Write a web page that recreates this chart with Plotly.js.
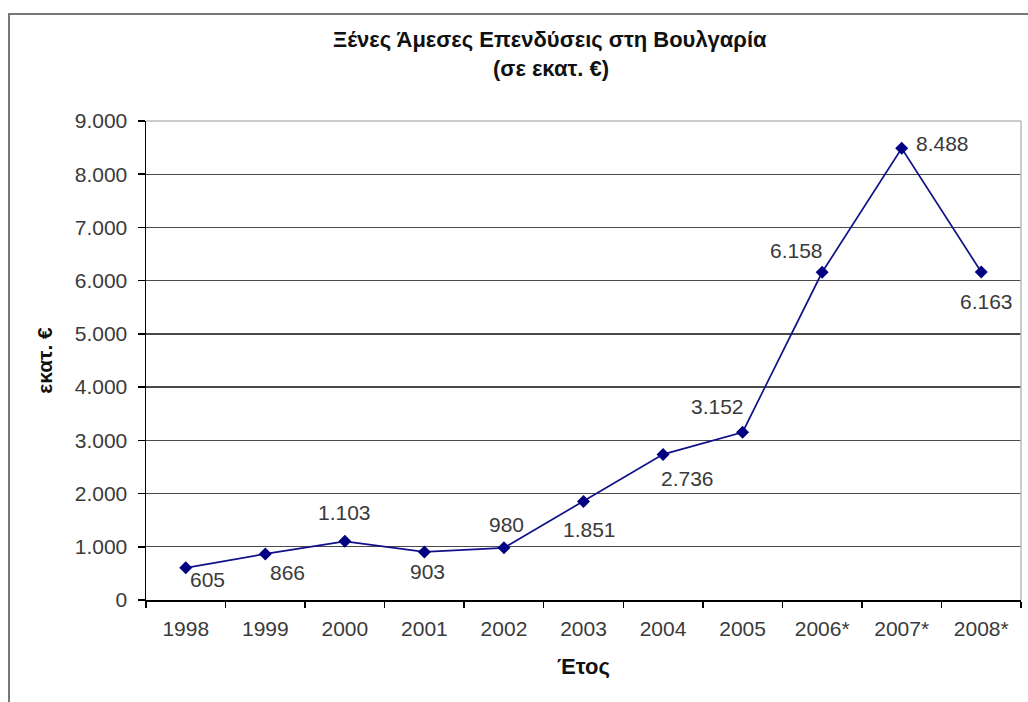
<!DOCTYPE html>
<html>
<head>
<meta charset="utf-8">
<script src="https://cdn.plot.ly/plotly-3.0.1.min.js"></script>
<style>
  html, body { margin: 0; padding: 0; background: #ffffff; }
  #chart { width: 1028px; height: 702px; }
</style>
</head>
<body>
<div id="chart"></div>
<script>
// Foreign direct investment in Bulgaria, million euro
const years = ['1998', '1999', '2000', '2001', '2002', '2003', '2004', '2005', '2006*', '2007*', '2008*'];
const fdi = [605, 866, 1103, 903, 980, 1851, 2736, 3152, 6158, 8488, 6163];

// Placement of each value label relative to its point (pixels; y down)
const labelDx = [22, 22, 0, 3, 3, 6, 24, -25, -26, 41, 5];
const labelDy = [12, 19, -29, 20, -23, 28, 24, -26, -22, -5, 30];

const yTicks = [0, 1000, 2000, 3000, 4000, 5000, 6000, 7000, 8000, 9000];

function fmt(v) {
  return v.toString().replace(/\B(?=(\d{3})+(?!\d))/g, '.');
}

const FONT = 'Liberation Sans, Arial, sans-serif';
const TEXT = '#3a3a3a';

const trace = {
  type: 'scatter',
  mode: 'lines+markers',
  x: years,
  y: fdi,
  line: { color: '#10108a', width: 1.7 },
  marker: { symbol: 'diamond', size: 10, color: '#000080' },
  hoverinfo: 'x+y'
};

// value labels: category axes take the point index as position
const annotations = fdi.map((v, i) => ({
  x: i, y: v, xref: 'x', yref: 'y',
  text: fmt(v), showarrow: false,
  xshift: labelDx[i], yshift: -labelDy[i],
  font: { family: FONT, size: 21, color: TEXT }
}));

// two-line chart heading
annotations.push({
  xref: 'paper', yref: 'paper', x: (550 - 146) / 875, y: (600 - 39) / 479,
  text: '<b>Ξένες Άμεσες Επενδύσεις στη Βουλγαρία</b>', showarrow: false,
  xanchor: 'center', yanchor: 'middle',
  font: { family: FONT, size: 22, color: '#111' }
});
annotations.push({
  xref: 'paper', yref: 'paper', x: (551 - 146) / 875, y: (600 - 68) / 479,
  text: '<b>(σε εκατ. €)</b>', showarrow: false,
  xanchor: 'center', yanchor: 'middle',
  font: { family: FONT, size: 22, color: '#111' }
});

const layout = {
  width: 1028,
  height: 702,
  margin: { l: 146, r: 7, t: 121, b: 102, pad: 0 },
  paper_bgcolor: '#ffffff',
  plot_bgcolor: '#ffffff',
  separators: ',.',
  showlegend: false,
  font: { family: FONT, size: 21, color: TEXT },
  xaxis: {
    type: 'category',
    range: [-0.5, years.length - 0.5],
    tickson: 'boundaries',
    ticks: 'outside',
    ticklen: 6,
    tickcolor: '#000',
    tickwidth: 1.5,
    tickangle: 0,
    ticklabelstandoff: 9,
    showline: true,
    linecolor: '#000',
    linewidth: 1.5,
    showgrid: false,
    zeroline: false,
    tickfont: { family: FONT, size: 21, color: TEXT },
    title: { text: '<b>Έτος</b>', standoff: 20, font: { family: FONT, size: 22, color: '#111' } }
  },
  yaxis: {
    range: [0, 9000],
    tickvals: yTicks,
    ticktext: yTicks.map(fmt),
    ticks: 'outside',
    ticklen: 7,
    tickcolor: '#000',
    tickwidth: 1.5,
    ticklabelstandoff: 6,
    showline: true,
    linecolor: '#000',
    linewidth: 1.5,
    showgrid: true,
    gridcolor: '#4a4a4a',
    gridwidth: 1.4,
    zeroline: false,
    tickfont: { family: FONT, size: 21, color: TEXT },
    title: { text: '<b>εκατ. €</b>', standoff: 16, font: { family: FONT, size: 21, color: '#111' } }
  },
  shapes: [
    // outer frame
    { type: 'rect', xref: 'paper', yref: 'paper',
      x0: (9 - 146) / 875, x1: (1060 - 146) / 875,
      y0: (600 - 740) / 479, y1: (600 - 14) / 479,
      line: { color: '#777', width: 2 }, layer: 'below' },
    // plot area edges on top and right
    { type: 'line', xref: 'paper', yref: 'paper', x0: 0, x1: 1, y0: 1, y1: 1,
      line: { color: '#bbb', width: 1.5 }, layer: 'above' },
    { type: 'line', xref: 'paper', yref: 'paper', x0: 1, x1: 1, y0: 0, y1: 1,
      line: { color: '#bbb', width: 1.5 }, layer: 'above' }
  ],
  annotations: annotations
};

Plotly.newPlot('chart', [trace], layout, { displayModeBar: false, staticPlot: true });
</script>
</body>
</html>
